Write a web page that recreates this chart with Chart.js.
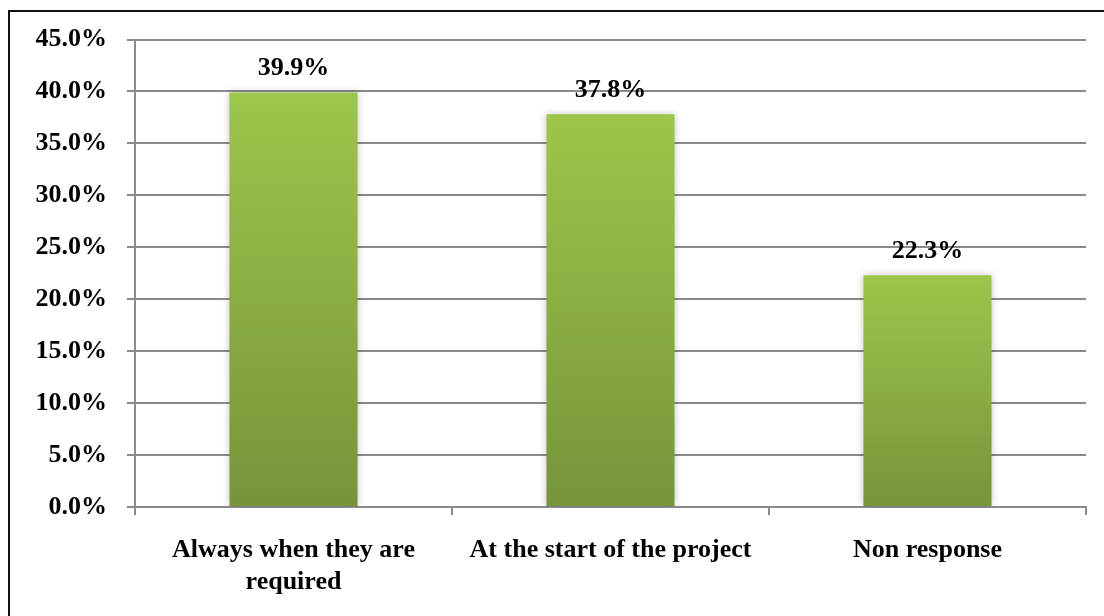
<!DOCTYPE html>
<html>
<head>
<meta charset="utf-8">
<script src="https://cdn.jsdelivr.net/npm/chart.js@4.4.1/dist/chart.umd.min.js"></script>
<style>
  html, body { margin: 0; padding: 0; background: #fff; overflow: hidden; }
  #wrap { position: relative; width: 1104px; height: 616px; }
  #frame { position: absolute; left: 8px; top: 10px; width: 1200px; height: 700px;
           border-left: 2.5px solid #111; border-top: 2.5px solid #111; box-sizing: border-box; }
  canvas { position: absolute; left: 0; top: 0; }
</style>
</head>
<body>
<div id="wrap">
  <div id="frame"></div>
  <canvas id="chart" width="1104" height="616"></canvas>
</div>
<script>
// Survey responses: when requirements are communicated
const categories = [["Always when they are", "required"], "At the start of the project", "Non response"];
const shares = [39.9, 37.8, 22.3];
const yTicks = { min: 0, max: 45, step: 5 };

const FONT = { family: "'Liberation Serif', 'Times New Roman', serif", size: 26, weight: 'bold', lineHeight: 1.2 };
const GRID = '#8a8a8a';

// Vertical green gradient per bar, lighter at the top
function barGradient(ctx) {
  const chart = ctx.chart;
  if (!chart.chartArea || ctx.type !== 'data') return '#8db548';
  const y = chart.scales.y;
  const top = y.getPixelForValue(ctx.parsed.y);
  const bottom = y.getPixelForValue(0);
  const g = chart.ctx.createLinearGradient(0, top, 0, bottom);
  g.addColorStop(0, '#9dc64b');
  g.addColorStop(1, '#77943a');
  return g;
}

// Soft shadow behind the bars
const barShadow = {
  id: 'barShadow',
  beforeDatasetDraw(chart) {
    const c = chart.ctx;
    c.save();
    c.shadowColor = 'rgba(0,0,0,0.22)';
    c.shadowBlur = 7;
    c.shadowOffsetX = 0;
    c.shadowOffsetY = 0;
  },
  afterDatasetDraw(chart) { chart.ctx.restore(); }
};

// Percentage labels above each bar
const valueLabels = {
  id: 'valueLabels',
  afterDatasetsDraw(chart) {
    const c = chart.ctx;
    const meta = chart.getDatasetMeta(0);
    c.save();
    c.font = `${FONT.weight} ${FONT.size}px ${FONT.family}`;
    c.fillStyle = '#000';
    c.textAlign = 'center';
    c.textBaseline = 'alphabetic';
    meta.data.forEach((bar, i) => {
      c.fillText(shares[i].toFixed(1) + '%', bar.x, bar.y - 17);
    });
    c.restore();
  }
};

new Chart(document.getElementById('chart'), {
  type: 'bar',
  data: {
    labels: categories,
    datasets: [{
      data: shares,
      backgroundColor: barGradient,
      borderWidth: 0,
      categoryPercentage: 1.0,
      barPercentage: 0.404
    }]
  },
  options: {
    responsive: false,
    animation: false,
    events: [],
    layout: { padding: { top: 39.5, right: 18, bottom: 0, left: 0 } },
    plugins: { legend: { display: false }, tooltip: { enabled: false } },
    scales: {
      x: {
        grid: { offset: true, drawOnChartArea: false, drawTicks: true, tickLength: 8, color: GRID, lineWidth: 2 },
        border: { display: true, color: GRID, width: 2 },
        ticks: { color: '#000', font: FONT, padding: 20, maxRotation: 0, autoSkip: false },
        afterFit(scale) { scale.height = 109; }
      },
      y: {
        min: yTicks.min,
        max: yTicks.max,
        grid: { color: GRID, lineWidth: 2, drawTicks: true, tickLength: 8 },
        border: { display: true, color: GRID, width: 2 },
        ticks: {
          stepSize: yTicks.step,
          color: '#000',
          font: FONT,
          padding: 20,
          callback: v => v.toFixed(1) + '%'
        },
        afterFit(scale) { scale.width = 135; }
      }
    }
  },
  plugins: [barShadow, valueLabels]
});
</script>
</body>
</html>
